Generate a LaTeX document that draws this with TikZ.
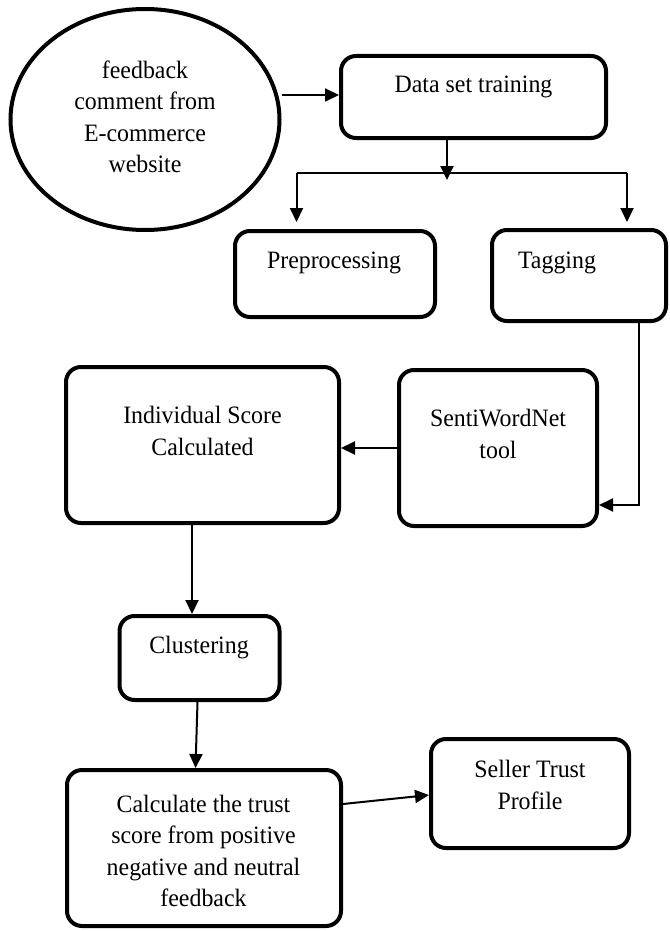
\documentclass[tikz,border=0pt]{standalone}
\usepackage{fontspec}
\setmainfont{Liberation Serif}[FakeStretch=0.955]
\usetikzlibrary{shapes.geometric, arrows.meta, positioning, calc}

\tikzset{
  stepbox/.style={draw, line width=4pt, rounded corners=15pt, inner sep=0pt},
  flowtext/.style={align=center, inner sep=0pt, font=\fontsize{25}{31.5}\selectfont},
  flowarrow/.style={line width=2pt, -{Triangle[length=14pt, width=13pt]}},
  flowline/.style={line width=2pt}
}

\begin{document}
\begin{tikzpicture}[x=1pt, y=-1pt]
  \useasboundingbox (0,0) rectangle (669,931);

  % Source - feedback ellipse
  \node[draw, ellipse, line width=4pt, minimum width=269pt, minimum height=221pt, inner sep=0pt] (source) at (145,119.5) {};
  \node[flowtext] (sourcetext) at (145,117) {feedback\\comment from\\E-commerce\\website};

  % Training and its two branches
  \node[stepbox, minimum width=265pt, minimum height=82pt] (dataset) at (473.5,97) {};
  \node[flowtext] (datasettext) at (473.5,87) {Data set training};

  \node[stepbox, minimum width=200pt, minimum height=86pt] (preproc) at (335,274) {};
  \node[flowtext] (preproctext) at (334,263) {Preprocessing};

  \node[stepbox, minimum width=174pt, minimum height=91pt] (tagging) at (579,275.5) {};
  \node[flowtext] (taggingtext) at (557,263) {Tagging};

  % Scoring row
  \node[stepbox, minimum width=198pt, minimum height=156pt] (senti) at (498,448) {};
  \node[flowtext] (sentitext) at (498,434) {SentiWordNet\\tool};

  \node[stepbox, minimum width=273pt, minimum height=156pt] (indiv) at (202.5,445) {};
  \node[flowtext] (indivtext) at (202.5,431) {Individual Score\\Calculated};

  % Clustering and trust
  \node[stepbox, minimum width=160pt, minimum height=84pt] (cluster) at (199.5,658) {};
  \node[flowtext] (clustertext) at (199,648) {Clustering};

  \node[stepbox, minimum width=274pt, minimum height=156pt] (trust) at (204,848) {};
  \node[flowtext] (trusttext) at (203.5,851) {Calculate the trust\\score from positive\\negative and neutral\\feedback};

  \node[stepbox, minimum width=198pt, minimum height=109pt] (seller) at (530,793.5) {};
  \node[flowtext] (sellertext) at (530,785) {Seller Trust\\Profile};

  % Branch points
  \coordinate (split) at (447,173);
  \coordinate (splitL) at (296.5,173);
  \coordinate (splitR) at (627,173);
  \coordinate (bend) at (639,505);

  % Connectors
  \draw[flowarrow] (source.east |- 0,95) -- (dataset.west |- 0,95);
  \draw[flowarrow] (dataset.south -| split) -- ([yshift=-7pt]split);
  \draw[flowline] (splitL) -- (splitR);
  \draw[flowarrow] (splitL) -- ([yshift=7pt]preproc.north -| splitL);
  \draw[flowarrow] (splitR) -- ([yshift=6pt]tagging.north -| splitR);
  \draw[flowarrow] (tagging.south -| bend) |- (senti.east |- bend);
  \draw[flowarrow] (senti.west) -- (senti.west -| indiv.east);
  \draw[flowarrow] (indiv.south -| 192,0) -- (cluster.north -| 192,0);
  \draw[flowarrow] ([xshift=-2pt]cluster.south) -- ([xshift=-8.5pt]trust.north);
  \draw[flowarrow] ([yshift=44pt]trust.east) -- ([yshift=-1.5pt]seller.west);
\end{tikzpicture}
\end{document}
